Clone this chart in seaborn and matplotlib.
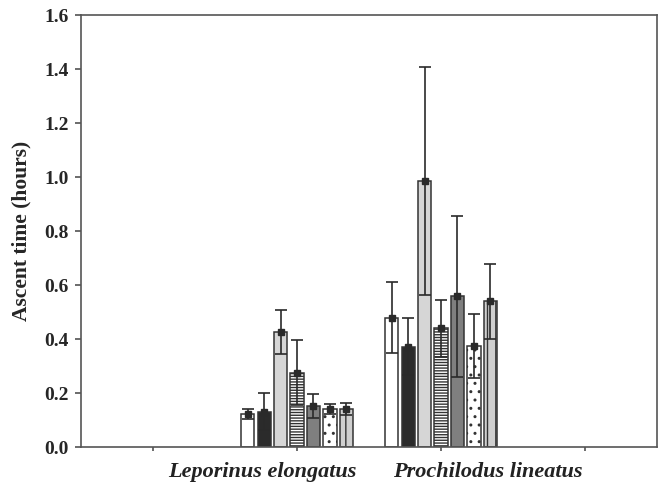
import matplotlib
matplotlib.use("Agg")
import matplotlib.pyplot as plt
import seaborn as sns
import pandas as pd
import numpy as np

# values (mean and error per treatment)
species = ["Leporinus elongatus", "Prochilodus lineatus"]
treatments = ["T1", "T2", "T3", "T4", "T5", "T6", "T7"]
mean_leporinus = [0.122, 0.131, 0.425, 0.275, 0.152, 0.140, 0.140]
err_leporinus = [0.020, 0.068, 0.081, 0.121, 0.046, 0.018, 0.023]
mean_prochilodus = [0.479, 0.372, 0.986, 0.439, 0.559, 0.375, 0.540]
err_prochilodus = [0.131, 0.104, 0.422, 0.105, 0.298, 0.118, 0.139]
y_ticks = [0.0, 0.2, 0.4, 0.6, 0.8, 1.0, 1.2, 1.4, 1.6]

bar_colors = ["#ffffff", "#2b2b2b", "#d6d6d6", "#ffffff", "#7f7f7f", "#ffffff", "#cfcfcf"]
bar_hatches = ["", "", "", "------", "", "..", "||"]

df = pd.DataFrame({
    "species": [species[0]] * 7 + [species[1]] * 7,
    "treatment": treatments * 2,
    "mean": mean_leporinus + mean_prochilodus,
    "err": err_leporinus + err_prochilodus,
})

sns.set_style("ticks")
plt.rcParams["font.family"] = ["Liberation Serif", "DejaVu Serif"]
plt.rcParams["hatch.color"] = "#444444"
plt.rcParams["hatch.linewidth"] = 1.0

fig = plt.figure(figsize=(6.59, 4.84), dpi=100)
ax = fig.add_axes([0.1229, 0.0764, 0.8741, 0.8926])

order = [" ", species[0], species[1], "  "]
sns.barplot(data=df, x="species", y="mean", hue="treatment", order=order,
            hue_order=treatments, palette=bar_colors, errorbar=None,
            gap=0.2, width=0.8, edgecolor="#333333", linewidth=1.1,
            legend=False, ax=ax)

err_lookup = {(r.species, r.treatment): r.err for r in df.itertuples()}
bar_containers = list(ax.containers)
for i, cont in enumerate(bar_containers):
    for bar in cont:
        h = bar.get_height()
        if np.isnan(h) or h == 0:
            continue
        bar.set_hatch(bar_hatches[i])
        xc = bar.get_x() + bar.get_width() / 2
        sp = order[int(round(xc))]
        e = err_lookup[(sp, treatments[i])]
        ax.errorbar(xc, h, yerr=e, fmt="s", color="#2a2a2a", markersize=4.5,
                    ecolor="#2a2a2a", elinewidth=1.2, capsize=4, capthick=1.2,
                    zorder=5)

ax.set_xlim(-0.5, 3.5)
ax.set_ylim(0, 1.6)
ax.set_yticks(y_ticks)
ax.set_yticklabels([f"{v:.1f}" for v in y_ticks], fontsize=14, fontweight="bold")
ax.set_xticks(range(4))
ax.set_xticklabels(["", "", "", ""])
ax.tick_params(axis="both", direction="out", length=4, width=1.1, color="#444444")
ax.tick_params(axis="y", pad=5)
ax.tick_params(axis="x", length=3)
ax.set_xlabel("")
ax.set_ylabel("Ascent time (hours)", fontsize=15.5, fontweight="bold", labelpad=9)

# species names sit left-aligned below the axis, as in the original
label_x = [0.104, 1.667]
for sx, name in zip(label_x, species):
    ax.text(sx, -0.035, name, transform=ax.get_xaxis_transform(), ha="left",
            va="top", fontsize=16, fontweight="bold", fontstyle="italic",
            color="#222222")

for s in ax.spines.values():
    s.set_visible(True)
    s.set_color("#555555")
    s.set_linewidth(1.2)

fig.savefig("out.png", dpi=100)
